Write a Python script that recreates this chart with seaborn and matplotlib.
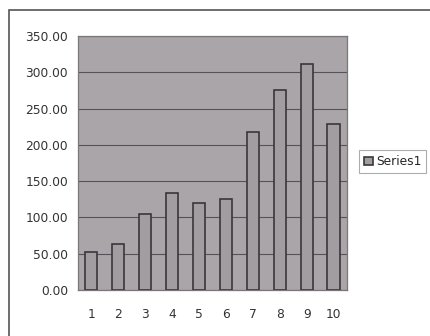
import pandas as pd
import matplotlib
matplotlib.use("Agg")
import matplotlib.pyplot as plt
import seaborn as sns
from matplotlib.patches import Rectangle

# values
categories = ["1", "2", "3", "4", "5", "6", "7", "8", "9", "10"]
values = [53, 63, 104, 133, 120, 125, 218, 275, 312, 229]
series_name = "Series1"
y_ticks = [0, 50, 100, 150, 200, 250, 300, 350]


def set_style():
    sns.set_style("white")
    plt.rcParams['font.family'] = ['DejaVu Sans']
    plt.rcParams['font.size'] = 9


def main():
    set_style()
    df = pd.DataFrame({"x": categories, "value": values, "series": series_name})

    fig = plt.figure(figsize=(4.3, 3.36), dpi=100)
    ax = fig.add_axes([0.181, 0.137, 0.626, 0.756])

    # outer chart frame like an old Excel chart
    fig.patches.append(Rectangle((0.022, -0.1), 1.1, 1.07, transform=fig.transFigure,
                                 fill=False, edgecolor="#555555", linewidth=1.2))

    ax.set_facecolor("#aaa5a9")
    sns.barplot(data=df, x="x", y="value", hue="series", palette=["#a29ca0"],
                width=0.45, edgecolor="#3c363c", linewidth=1.2, ax=ax, zorder=3)

    ax.set_ylim(0, 350)
    ax.set_yticks(y_ticks)
    ax.set_yticklabels([f"{v:.2f}" for v in y_ticks])
    ax.yaxis.grid(True, color="#57525a", linewidth=0.8)
    ax.set_axisbelow(True)
    for s in ax.spines.values():
        s.set_color("#7a767a")
        s.set_linewidth(0.9)

    ax.tick_params(axis="y", length=4, width=0.8, color="#666666", pad=3,
                   labelcolor="#333333", labelsize=8.8)
    ax.tick_params(axis="x", length=0, pad=13, labelcolor="#333333", labelsize=8.8)
    ax.set_xlabel("")
    ax.set_ylabel("")

    leg = ax.legend(loc="center left", bbox_to_anchor=(1.045, 0.505), frameon=True,
                    fancybox=False, fontsize=8.8, handlelength=0.7, handleheight=0.7,
                    handletextpad=0.3, borderpad=0.4, borderaxespad=0)
    leg.get_frame().set_edgecolor("#999999")
    leg.get_frame().set_linewidth(0.8)

    fig.savefig("out.png", dpi=100, facecolor="white")
    plt.close(fig)


if __name__ == "__main__":
    main()
